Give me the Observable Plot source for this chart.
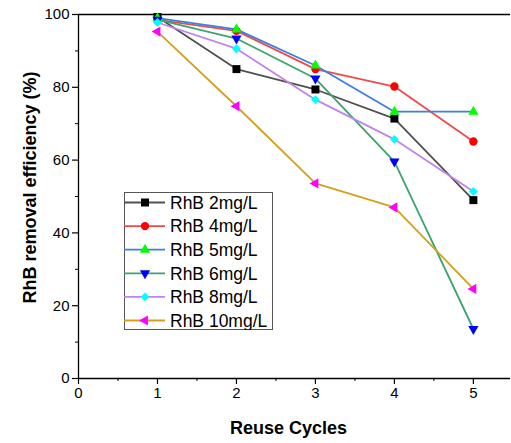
<!DOCTYPE html>
<html><head><meta charset="utf-8">
<script src="https://cdn.jsdelivr.net/npm/d3@7"></script>
<script src="https://cdn.jsdelivr.net/npm/@observablehq/plot@0.6"></script>
<style>
body{margin:0;background:#fff;}
#wrap{position:relative;width:511px;height:443px;font-family:"Liberation Sans",Arial,sans-serif;}
#legend{position:absolute;left:124px;top:192px;}
</style></head>
<body><div id="wrap"></div>
<script>
const cycles = [1, 2, 3, 4, 5];
const seriesNames = ["RhB 2mg/L", "RhB 4mg/L", "RhB 5mg/L", "RhB 6mg/L", "RhB 8mg/L", "RhB 10mg/L"];
const rhb2  = [99.3, 85.0, 79.4, 71.4, 49.0];
const rhb4  = [98.5, 95.5, 85.0, 80.2, 65.1];
const rhb5  = [99.0, 95.9, 86.0, 73.3, 73.3];
const rhb6  = [98.6, 93.4, 82.4, 59.6, 13.6];
const rhb8  = [97.8, 90.6, 76.6, 65.7, 51.4];
const rhb10 = [95.3, 74.8, 53.6, 47.0, 24.6];
const xTicks = [0, 1, 2, 3, 4, 5];
const xMinor = [0.5, 1.5, 2.5, 3.5, 4.5];
const yTicks = [0, 20, 40, 60, 80, 100];
const yMinor = [10, 30, 50, 70, 90];

const styles = [
  {line: "#505050", fill: "#000000", symbol: "square", r: 4.5, rotate: 0, dsym: d3.symbolSquare},
  {line: "#f04a4a", fill: "#ff0000", symbol: "circle", r: 4.2, rotate: 0, dsym: d3.symbolCircle},
  {line: "#3a80e0", fill: "#00ff00", symbol: "triangle", r: 3.8, rotate: 0, dsym: d3.symbolTriangle},
  {line: "#3ca46c", fill: "#0000ff", symbol: "triangle", r: 3.8, rotate: 180, dsym: d3.symbolTriangle},
  {line: "#c084ea", fill: "#00ffff", symbol: "diamond2", r: 4.0, rotate: 0, dsym: d3.symbolDiamond2},
  {line: "#d4a01c", fill: "#ff00ff", symbol: "triangle", r: 3.8, rotate: -90, dsym: d3.symbolTriangle}
];
const allValues = [rhb2, rhb4, rhb5, rhb6, rhb8, rhb10];
const series = allValues.map((vals, i) => cycles.map((c, j) => ({cycle: c, value: vals[j], name: seriesNames[i]})));

const lineMarks = series.map((data, i) => Plot.line(data, {x: "cycle", y: "value", stroke: styles[i].line, strokeWidth: 1.8}));
const dotMarks = series.map((data, i) => Plot.dot(data, {x: "cycle", y: "value", symbol: () => styles[i].symbol, r: styles[i].r, fill: styles[i].fill, stroke: "none", rotate: styles[i].rotate}));

const chart = Plot.plot({
  width: 511, height: 443,
  marginLeft: 78, marginRight: 1, marginTop: 14, marginBottom: 65,
  x: {domain: [0, 5.47]},
  y: {domain: [0, 100]},
  symbol: {type: "identity"},
  style: {fontFamily: "'Liberation Sans', Arial, sans-serif", color: "#000", background: "#fff", overflow: "visible"},
  marks: [
    Plot.axisX({ticks: xTicks, tickSize: 6, tickPadding: 3, fontSize: 15, label: null, tickFormat: d => String(d), stroke: "#000", strokeWidth: 1.2}),
    Plot.axisX({ticks: xMinor, tickSize: 3, label: null, tickFormat: () => "", stroke: "#000"}),
    Plot.axisY({ticks: yTicks, tickSize: 6, tickPadding: 3, fontSize: 15, label: null, tickFormat: d => String(d), stroke: "#000", strokeWidth: 1.2}),
    Plot.axisY({ticks: yMinor, tickSize: 3, label: null, tickFormat: () => "", stroke: "#000"}),
    Plot.ruleY([0], {stroke: "#000", strokeWidth: 1.3}),
    Plot.ruleX([0], {stroke: "#000", strokeWidth: 1.3}),
    Plot.ruleY([100], {stroke: "#000", strokeWidth: 1.6}),
    ...lineMarks,
    ...dotMarks,
    Plot.text(["RhB removal efficiency (%)"], {frameAnchor: "left", textAnchor: "middle", lineAnchor: "middle", dx: -48, dy: -9, rotate: -90, fontSize: 18, fontWeight: "bold", fill: "#000"}),
    Plot.text(["Reuse Cycles"], {frameAnchor: "bottom", textAnchor: "middle", lineAnchor: "middle", dx: -6, dy: 50, fontSize: 18, fontWeight: "bold", fill: "#000"})
  ]
});
const wrap = document.getElementById("wrap");
wrap.appendChild(chart);

// legend
const lw = 149, lh = 138, rowH = 23.6, top0 = 10.5;
const leg = d3.select(wrap).append("svg").attr("id", "legend").attr("width", lw).attr("height", lh);
leg.append("rect").attr("x", 0.5).attr("y", 0.5).attr("width", lw - 1).attr("height", lh - 1).attr("fill", "#fff").attr("stroke", "#555").attr("stroke-width", 1);
seriesNames.forEach((name, i) => {
  const s = styles[i];
  const y = top0 + i * rowH;
  const g = leg.append("g");
  g.append("line").attr("x1", 0).attr("x2", 41).attr("y1", y).attr("y2", y).attr("stroke", s.line).attr("stroke-width", 1.8);
  g.append("path").attr("d", d3.symbol(s.dsym, Math.PI * s.r * s.r)()).attr("transform", `translate(21,${y}) rotate(${s.rotate})`).attr("fill", s.fill);
  g.append("text").attr("x", 46).attr("y", y).attr("dy", "0.36em").attr("font-size", 17.5).attr("font-family", "'Liberation Sans', Arial, sans-serif").attr("fill", "#000").text(name);
});
</script>
</body></html>
